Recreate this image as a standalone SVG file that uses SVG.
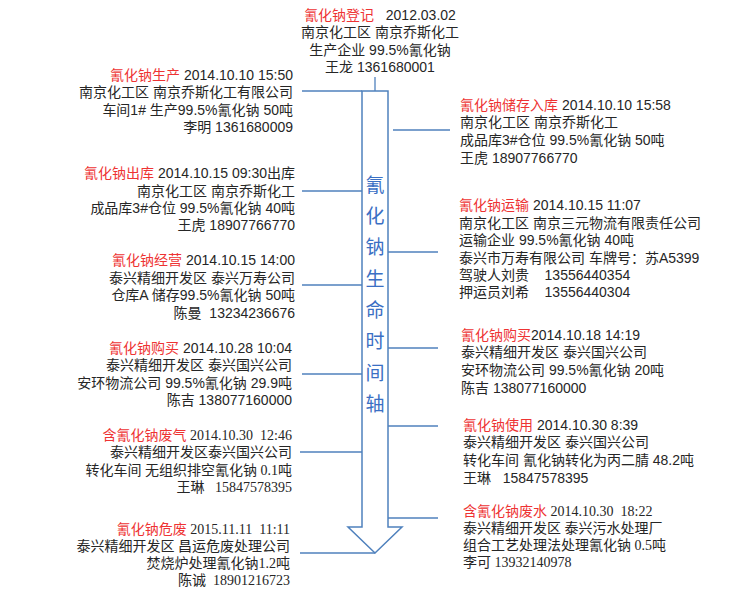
<svg xmlns="http://www.w3.org/2000/svg" width="756" height="598" viewBox="0 0 756 598">
<style>
text{font-size:14px;fill:#262626;font-family:"Liberation Sans","Noto Sans CJK SC",sans-serif}
text.s{font-family:"Liberation Serif","Noto Sans CJK SC",serif}
.r{fill:#ee3333;font-family:"Liberation Sans","Noto Sans CJK SC",sans-serif}
.e{text-anchor:end}
.m{text-anchor:middle}
.c{stroke:#4f81bd;stroke-width:1.3;fill:none}
.ax{font-size:19px;fill:#3a6fc4;text-anchor:middle}
</style>
<rect width="756" height="598" fill="#ffffff"/>
<g id="connectors">
<path class="c" d="M375,77V91"/>
<path class="c" d="M302,91H362"/>
<path class="c" d="M302,191H362"/>
<path class="c" d="M302,285H362"/>
<path class="c" d="M302,374H362"/>
<path class="c" d="M300,452H362"/>
<path class="c" d="M300,553H375"/>
<path class="c" d="M393,130H450"/>
<path class="c" d="M388,252H438"/>
<path class="c" d="M388,348H438"/>
<path class="c" d="M388,426H438"/>
<path class="c" d="M388,518H438"/>
</g>
<g id="timeline">
<path d="M362,91H388V527H402L375,553L348,527H362Z" fill="#ffffff" stroke="#4f81bd" stroke-width="1.5"/>
<text class="ax"><tspan x="375" y="192">氰</tspan><tspan x="375" y="223">化</tspan><tspan x="375" y="254">钠</tspan><tspan x="375" y="286">生</tspan><tspan x="375" y="317">命</tspan><tspan x="375" y="348">时</tspan><tspan x="375" y="380">间</tspan><tspan x="375" y="411">轴</tspan></text>
</g>
<g id="n-register">
<text class="m" x="380" y="20" xml:space="preserve"><tspan class="r">氰化钠登记</tspan>   2012.03.02</text>
<text class="m" x="380" y="37">南京化工区 南京乔斯化工</text>
<text class="m" x="380" y="55">生产企业 99.5%氰化钠</text>
<text class="m" x="380" y="72">王龙 1361680001</text>
</g>
<g id="n-produce">
<text class="e" x="293" y="80"><tspan class="r">氰化钠生产</tspan> 2014.10.10 15:50</text>
<text class="e" x="293" y="97">南京化工区 南京乔斯化工有限公司</text>
<text class="e" x="293" y="115">车间1# 生产99.5%氰化钠 50吨</text>
<text class="e" x="293" y="132">李明 1361680009</text>
</g>
<g id="n-storage">
<text x="460" y="110"><tspan class="r">氰化钠储存入库</tspan> 2014.10.10 15:58</text>
<text x="460" y="127">南京化工区 南京乔斯化工</text>
<text x="460" y="145">成品库3#仓位 99.5%氰化钠 50吨</text>
<text x="460" y="163">王虎 18907766770</text>
</g>
<g id="n-outbound">
<text class="e" x="295" y="178"><tspan class="r">氰化钠出库</tspan> 2014.10.15 09:30出库</text>
<text class="e" x="295" y="196">南京化工区 南京乔斯化工</text>
<text class="e" x="295" y="213">成品库3#仓位 99.5%氰化钠 40吨</text>
<text class="e" x="295" y="230">王虎 18907766770</text>
</g>
<g id="n-transport">
<text x="459" y="210"><tspan class="r">氰化钠运输</tspan> 2014.10.15 11:07</text>
<text x="459" y="228">南京化工区 南京三元物流有限责任公司</text>
<text x="459" y="245">运输企业 99.5%氰化钠 40吨</text>
<text x="459" y="263">泰兴市万寿有限公司 车牌号：苏A5399</text>
<text x="459" y="280" xml:space="preserve">驾驶人刘贵    13556440354</text>
<text x="459" y="297" xml:space="preserve">押运员刘希    13556440304</text>
</g>
<g id="n-trade">
<text class="e" x="295" y="265"><tspan class="r">氰化钠经营</tspan> 2014.10.15 14:00</text>
<text class="e" x="295" y="283">泰兴精细开发区 泰兴万寿公司</text>
<text class="e" x="295" y="300">仓库A 储存99.5%氰化钠 50吨</text>
<text class="e" x="295" y="318" xml:space="preserve">陈曼  13234236676</text>
</g>
<g id="n-buy-right">
<text x="461" y="340"><tspan class="r">氰化钠购买</tspan>2014.10.18 14:19</text>
<text x="461" y="357">泰兴精细开发区 泰兴国兴公司</text>
<text x="461" y="375">安环物流公司 99.5%氰化钠 20吨</text>
<text x="461" y="393">陈吉 138077160000</text>
</g>
<g id="n-buy-left">
<text class="e" x="292" y="353"><tspan class="r">氰化钠购买</tspan> 2014.10.28 10:04</text>
<text class="e" x="292" y="370">泰兴精细开发区 泰兴国兴公司</text>
<text class="e" x="292" y="388">安环物流公司 99.5%氰化钠 29.9吨</text>
<text class="e" x="292" y="405">陈吉 138077160000</text>
</g>
<g id="n-use">
<text x="463" y="430"><tspan class="r">氰化钠使用</tspan> 2014.10.30 8:39</text>
<text x="463" y="447">泰兴精细开发区 泰兴国兴公司</text>
<text x="463" y="465">转化车间 氰化钠转化为丙二腈 48.2吨</text>
<text x="463" y="483" xml:space="preserve">王琳   15847578395</text>
</g>
<g id="n-gas">
<text class="e s" x="292" y="440" xml:space="preserve"><tspan class="r">含氰化钠废气</tspan> 2014.10.30  12:46</text>
<text class="e s" x="292" y="457">泰兴精细开发区泰兴国兴公司</text>
<text class="e s" x="292" y="475">转化车间 无组织排空氰化钠 0.1吨</text>
<text class="e s" x="292" y="492" xml:space="preserve">王琳   15847578395</text>
</g>
<g id="n-water">
<text class="s" x="463" y="516" xml:space="preserve"><tspan class="r">含氰化钠废水</tspan> 2014.10.30  18:22</text>
<text class="s" x="463" y="533">泰兴精细开发区 泰兴污水处理厂</text>
<text class="s" x="463" y="550">组合工艺处理法处理氰化钠 0.5吨</text>
<text class="s" x="463" y="567">李可 13932140978</text>
</g>
<g id="n-hazard">
<text class="e s" x="290" y="534" xml:space="preserve"><tspan class="r">氰化钠危废</tspan> 2015.11.11  11:11</text>
<text class="e s" x="290" y="551">泰兴精细开发区 昌运危废处理公司</text>
<text class="e s" x="290" y="568">焚烧炉处理氰化钠1.2吨</text>
<text class="e s" x="290" y="585" xml:space="preserve">陈诚  18901216723</text>
</g>
</svg>
